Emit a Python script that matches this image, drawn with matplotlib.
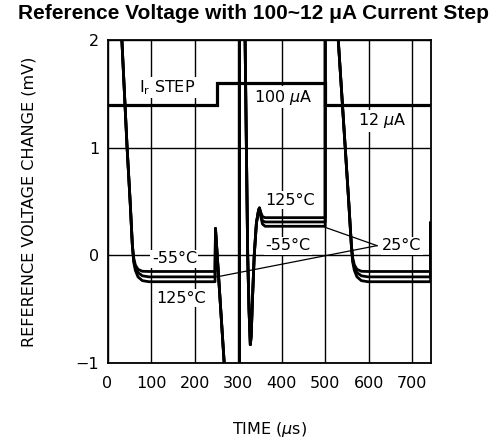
import matplotlib
matplotlib.use("Agg")
import matplotlib.pyplot as plt

# ---------------- data ----------------
x_ticks = [0, 100, 200, 300, 400, 500, 600, 700]
y_ticks = [-1, 0, 1, 2]

# I_r current step trace (plotted on voltage scale as in datasheet)
ir_t = [0, 252, 252, 500, 500, 743]
ir_v = [1.4, 1.4, 1.6, 1.6, 1.4, 1.4]

# common time base for the three temperature curves
t_pts = [28, 33, 39, 45, 52, 57, 60, 64, 70, 80, 95, 247, 248, 268, 273, 303, 303,
         314, 316, 319, 322, 325, 328, 330, 333, 337, 342, 347, 349, 352, 356, 362,
         500, 500, 528, 530, 538, 546, 554, 560, 563, 567, 573, 583, 598, 742, 742]

v_m55 = [2.4, 2.0, 1.5, 1.0, 0.5, 0.1, -0.02, -0.09, -0.13, -0.148, -0.15, -0.15, 0.25,
         -1.0, -1.3, -1.3, 2.3, 2.3, 2.0, 1.0, 0.0, -0.5, -0.83, -0.75, -0.4, 0.0, 0.3,
         0.42, 0.44, 0.36, 0.29, 0.27, 0.27, 2.3, 2.3, 2.0, 1.5, 1.0, 0.5, 0.1, -0.02,
         -0.09, -0.13, -0.148, -0.15, -0.15, 0.3]
v_25 = [2.4, 2.0, 1.5, 1.0, 0.5, 0.1, -0.04, -0.11, -0.16, -0.19, -0.2, -0.2, 0.25,
        -1.0, -1.3, -1.3, 2.3, 2.3, 2.0, 1.0, 0.0, -0.5, -0.83, -0.75, -0.4, 0.0, 0.3,
        0.42, 0.44, 0.38, 0.32, 0.31, 0.31, 2.3, 2.3, 2.0, 1.5, 1.0, 0.5, 0.1, -0.04,
        -0.11, -0.16, -0.19, -0.2, -0.2, 0.3]
v_125 = [2.4, 2.0, 1.5, 1.0, 0.5, 0.1, -0.06, -0.14, -0.2, -0.235, -0.245, -0.245, 0.25,
         -1.0, -1.3, -1.3, 2.3, 2.3, 2.0, 1.0, 0.0, -0.5, -0.83, -0.75, -0.4, 0.0, 0.3,
         0.42, 0.44, 0.40, 0.36, 0.35, 0.35, 2.3, 2.3, 2.0, 1.5, 1.0, 0.5, 0.1, -0.06,
         -0.14, -0.2, -0.235, -0.245, -0.245, 0.3]

# leader lines for the 25°C label
lead1_t = [500, 619]
lead1_v = [0.26, 0.09]
lead2_t = [251, 619]
lead2_v = [-0.2, 0.09]

# ---------------- figure ----------------
plt.rcParams['font.family'] = ['DejaVu Sans']
fig = plt.figure(figsize=(4.97, 4.37), dpi=100)
ax = fig.add_axes([0.2163, 0.1693, 0.6509, 0.7392])

ax.set_xlim(0, 743)
ax.set_ylim(-1, 2)
ax.set_xticks(x_ticks)
ax.set_yticks(y_ticks)
ax.tick_params(axis='both', length=0, labelsize=11.5)
ax.tick_params(axis='x', pad=9)
ax.tick_params(axis='y', pad=6)
ax.grid(True, color='black', linewidth=1.0)
ax.set_axisbelow(True)
for s in ax.spines.values():
    s.set_linewidth(1.3)
    s.set_color('black')

ax.plot(ir_t, ir_v, color='black', linewidth=2.3, zorder=4, solid_joinstyle='miter')
for v in (v_m55, v_25, v_125):
    ax.plot(t_pts, v, color='black', linewidth=2.0, zorder=4)

ax.plot(lead1_t, lead1_v, color='black', linewidth=0.9, zorder=4)
ax.plot(lead2_t, lead2_v, color='black', linewidth=0.9, zorder=4)

bb = dict(facecolor='white', edgecolor='none', pad=1.0)
fs = 11.5
ax.text(73, 1.56, r'I$_\mathregular{r}$ STEP', fontsize=fs, va='center', ha='left', bbox=bb, zorder=3)
ax.text(337, 1.47, r'100 $\mu$A', fontsize=fs, va='center', ha='left', bbox=bb, zorder=3)
ax.text(576, 1.25, r'12 $\mu$A', fontsize=fs, va='center', ha='left', bbox=bb, zorder=3)
ax.text(362, 0.51, '125°C', fontsize=fs, va='center', ha='left', bbox=bb, zorder=3)
ax.text(362, 0.09, '-55°C', fontsize=fs, va='center', ha='left', bbox=bb, zorder=3)
ax.text(631, 0.09, '25°C', fontsize=fs, va='center', ha='left', bbox=bb, zorder=3)
ax.text(102, -0.03, '-55°C', fontsize=fs, va='center', ha='left', bbox=bb, zorder=3)
ax.text(113, -0.40, '125°C', fontsize=fs, va='center', ha='left', bbox=bb, zorder=3)

ax.set_xlabel(r'TIME ($\mu$s)', fontsize=11.5)
ax.set_ylabel('REFERENCE VOLTAGE CHANGE (mV)', fontsize=11.5)
ax.xaxis.set_label_coords(0.5, -0.175)
ax.yaxis.set_label_coords(-0.218, 0.5)

fig.suptitle('Reference Voltage with 100~12 μA Current Step', x=0.51, y=0.99,
             fontsize=15, fontweight='bold', family=['Liberation Sans', 'DejaVu Sans'])

fig.savefig('out.png', dpi=100)
